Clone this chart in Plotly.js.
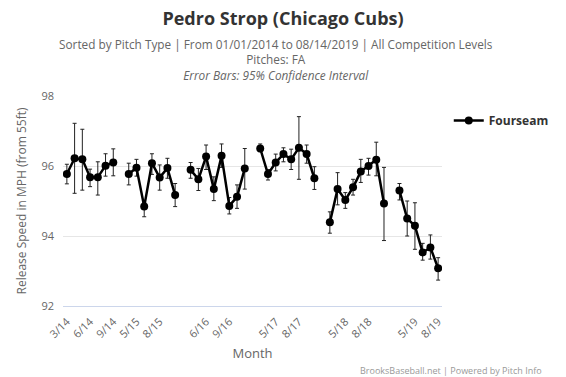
<!DOCTYPE html>
<html>
<head>
<meta charset="utf-8">
<script src="https://cdn.plot.ly/plotly-3.0.1.min.js"></script>
<style>html,body{margin:0;padding:0;background:#fff;}#chart{width:566px;height:377px;}</style>
</head>
<body>
<div id="chart"></div>
<script>
// Month categories ("" = gap between seasons)
const months = [
  "3/14","4/14","5/14","6/14","7/14","8/14","9/14","",
  "4/15","5/15","6/15","7/15","8/15","9/15","10/15","",
  "4/16","5/16","6/16","7/16","8/16","9/16","10/16","11/16","",
  "3/17","4/17","5/17","6/17","7/17","8/17","9/17","10/17","",
  "3/18","4/18","5/18","6/18","7/18","8/18","9/18","10/18","",
  "3/19","4/19","5/19","6/19","7/19","8/19"
];
// Fourseam average release speed (mph)
const speed = [
  95.77, 96.22, 96.19, 95.68, 95.68, 96.01, 96.10, null,
  95.77, 95.95, 94.84, 96.08, 95.67, 95.94, 95.17, null,
  95.89, 95.62, 96.27, 95.34, 96.29, 94.86, 95.12, 95.93, null,
  96.50, 95.77, 96.10, 96.34, 96.19, 96.52, 96.34, 95.65, null,
  94.39, 95.34, 95.03, 95.39, 95.84, 96.00, 96.18, 94.93, null,
  95.30, 94.50, 94.29, 93.53, 93.67, 93.08
];
// 95% confidence interval bounds
const upper = [
  96.05, 97.22, 97.05, 95.91, 96.12, 96.35, 96.49, null,
  96.08, 96.19, 94.95, 96.35, 96.03, 96.22, 95.50, null,
  96.10, 95.93, 96.60, 95.69, 96.63, 95.10, 95.46, 96.50, null,
  96.63, 95.90, 96.34, 96.52, 96.48, 97.41, 96.60, 95.98, null,
  94.69, 95.81, 95.24, 95.62, 96.19, 96.22, 96.68, 95.96, null,
  95.50, 95.00, 94.95, 93.79, 94.03, 93.38
];
const lower = [
  95.49, 95.22, 95.31, 95.41, 95.17, 95.71, 95.72, null,
  95.46, 95.71, 94.55, 95.76, 95.31, 95.65, 94.84, null,
  95.65, 95.30, 95.90, 95.01, 95.96, 94.63, 94.79, 95.34, null,
  96.41, 95.60, 95.86, 96.12, 95.90, 95.62, 96.08, 95.33, null,
  94.08, 94.89, 94.79, 95.17, 95.53, 95.74, 95.72, 93.87, null,
  95.03, 94.00, 93.62, 93.31, 93.34, 92.74
];
const yTicks = [92, 94, 96, 98];

const xIdx = months.map((m, i) => i);
const plus = speed.map((v, i) => v === null ? null : +(upper[i] - v).toFixed(3));
const minus = speed.map((v, i) => v === null ? null : +(v - lower[i]).toFixed(3));
const tickVals = xIdx.filter(i => i % 3 === 0);
const tickText = tickVals.map(i => months[i]);

const FONT = "'Open Sans', 'Liberation Sans', sans-serif";
// plot area: x 63..455, y 96..306
const px = p => (p - 63) / 392;
const py = p => 1 - (p - 96) / 210;

const trace = {
  type: 'scatter',
  mode: 'lines+markers',
  name: 'Fourseam',
  x: xIdx,
  y: speed,
  text: months,
  connectgaps: false,
  line: {color: '#000', width: 2.5},
  marker: {color: '#000', size: 8},
  error_y: {
    type: 'data', symmetric: false,
    array: plus, arrayminus: minus,
    color: '#222', thickness: 1, width: 2
  }
};

const layout = {
  width: 566, height: 377,
  margin: {l: 63, r: 111, t: 96, b: 71},
  paper_bgcolor: '#fff', plot_bgcolor: '#fff',
  font: {family: FONT, color: '#666', size: 11},
  showlegend: true,
  legend: {
    x: px(462), y: py(106), xanchor: 'left', yanchor: 'top',
    font: {family: FONT, size: 12, color: '#333', weight: 'bold'},
    bgcolor: 'rgba(0,0,0,0)'
  },
  title: {
    text: '<b>Pedro Strop (Chicago Cubs)</b>',
    font: {family: FONT, size: 18, color: '#333'},
    x: 0.5, xref: 'container', xanchor: 'center',
    y: 1 - 19/377, yref: 'container', yanchor: 'middle'
  },
  xaxis: {
    range: [-0.5, months.length - 0.5],
    tickvals: tickVals, ticktext: tickText,
    tickangle: -45,
    tickfont: {family: FONT, size: 11, color: '#666'},
    showgrid: false, zeroline: false,
    showline: true, linecolor: '#ccd6eb', linewidth: 1,
    ticks: '',
    ticklabelstandoff: 4,
    title: {text: 'Month', font: {family: FONT, size: 13, color: '#666'}, standoff: 8}
  },
  yaxis: {
    range: [92, 98],
    tickvals: yTicks,
    tickfont: {family: FONT, size: 11, color: '#666'},
    gridcolor: '#e6e6e6', gridwidth: 1,
    zeroline: false, showline: false, ticks: '',
    ticklabelstandoff: 8,
    title: {text: 'Release Speed in MPH (from 55ft)', font: {family: FONT, size: 12, color: '#666'}, standoff: 12}
  },
  annotations: [
    {text: 'Sorted by Pitch Type | From 01/01/2014 to 08/14/2019 | All Competition Levels<br>Pitches: FA<br><i>Error Bars: 95% Confidence Interval</i>',
     xref: 'paper', yref: 'paper', x: px(283), y: py(60), xanchor: 'center', yanchor: 'middle',
     align: 'center', showarrow: false, font: {family: FONT, size: 11.8, color: '#666'}},
    {text: 'BrooksBaseball.net | Powered by Pitch Info',
     xref: 'paper', yref: 'paper', x: px(560), y: py(370), xanchor: 'right', yanchor: 'middle',
     showarrow: false, font: {family: FONT, size: 9, color: '#999'}}
  ]
};

Plotly.newPlot('chart', [trace], layout, {displayModeBar: false, staticPlot: true});
</script>
</body>
</html>
